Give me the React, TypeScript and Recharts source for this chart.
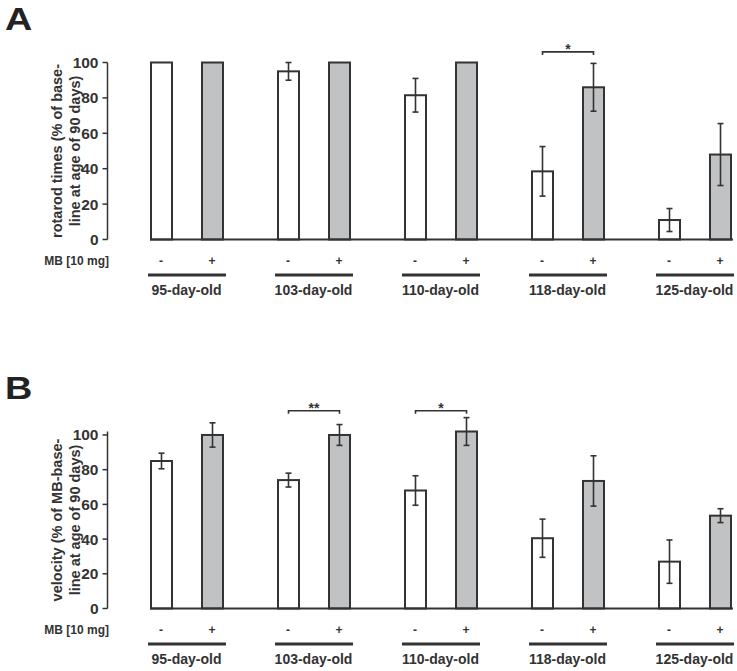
import { Bar, BarChart, Label, XAxis, YAxis } from 'recharts';

const groups = ['95-day-old', '103-day-old', '110-day-old', '118-day-old', '125-day-old'];
const yTicks = [0, 20, 40, 60, 80, 100];

// A: rotarod times
const rotarodCtrl = [100, 95, 81.5, 38.5, 11];
const rotarodCtrlErr = [0, 5, 9.5, 14, 6.5];
const rotarodMb = [100, 100, 100, 86, 48];
const rotarodMbErr = [0, 0, 0, 13.5, 17.5];
const rotarodSig = ['', '', '', '*', ''];

// B: velocity
const velocityCtrl = [85, 74, 68, 40.5, 27];
const velocityCtrlErr = [4.5, 4, 8.5, 11, 12.5];
const velocityMb = [100, 100, 102, 73.5, 53.5];
const velocityMbErr = [7, 6, 8, 14.5, 4];
const velocitySig = ['', '**', '*', '', ''];

const BAR = 21;
const GAP = 30;
const ink = '#333';
const font = '"Liberation Sans", Arial, Helvetica, sans-serif';

function buildRows(ctrl: number[], ctrlErr: number[], mb: number[], mbErr: number[], sig: string[]) {
  return groups.map((group, i) => ({
    pos: i,
    group,
    ctrl: ctrl[i],
    ctrlErr: ctrlErr[i],
    mb: mb[i],
    mbErr: mbErr[i],
    sig: sig[i],
  }));
}

function BarShape(props: any) {
  const { x, y, width, height, payload, field, color, sigLevel } = props;
  const v = payload[field];
  const err = payload[field + 'Err'];
  const k = v ? height / v : 0;
  const cx = x + width / 2;
  const base = y + height;
  const top = y - err * k;
  const bot = y + err * k;
  const showSig = field === 'mb' && payload.sig;
  const lx = cx - (BAR + GAP);
  const by = base - sigLevel * k;
  return (
    <g>
      <rect x={x} y={y} width={width} height={height} fill={color} stroke={ink} strokeWidth={2} />
      {err > 0 && (
        <g stroke={ink} strokeWidth={1.6}>
          <line x1={cx} x2={cx} y1={top} y2={bot} />
          <line x1={cx - 3} x2={cx + 3} y1={top} y2={top} />
          <line x1={cx - 3} x2={cx + 3} y1={bot} y2={bot} />
        </g>
      )}
      {showSig && (
        <g>
          <path d={`M${lx},${by + 3}V${by}H${cx}V${by + 3}`} fill="none" stroke={ink} strokeWidth={1.6} />
          <text x={(lx + cx) / 2} y={by + 2} textAnchor="middle" fontSize={14} fontWeight="bold" fill={ink}>
            {payload.sig}
          </text>
        </g>
      )}
    </g>
  );
}

function GroupTick(props: any) {
  const { x, y, payload } = props;
  const half = (BAR + GAP) / 2;
  return (
    <g fill={ink} fontWeight="bold">
      <text x={x - half} y={y + 25} textAnchor="middle" fontSize={12}>-</text>
      <text x={x + half} y={y + 25} textAnchor="middle" fontSize={12}>+</text>
      <line x1={x - 38.5} x2={x + 39.5} y1={y + 35.5} y2={y + 35.5} stroke={ink} strokeWidth={3} />
      <text x={x} y={y + 55} textAnchor="middle" fontSize={14}>{groups[payload.value]}</text>
    </g>
  );
}

function Panel({ letter, top, data, yLines, sigLevel }: any) {
  return (
    <div style={{ position: 'absolute', left: 0, top, width: 737, height: 300 }}>
      <div
        style={{
          position: 'absolute',
          left: 5,
          top: 4,
          fontSize: 31,
          lineHeight: 1,
          fontWeight: 'bold',
          color: '#222',
          transform: 'scaleX(1.22)',
          transformOrigin: 'left top',
        }}
      >
        {letter}
      </div>
      <BarChart
        width={737}
        height={300}
        data={data}
        margin={{ top: 62.5, right: 4, bottom: 2.5, left: 0 }}
        barSize={BAR}
        barGap={GAP}
      >
        <XAxis
          type="number"
          dataKey="pos"
          domain={[0, 4]}
          ticks={[0, 1, 2, 3, 4]}
          interval={0}
          padding={{ left: 36.5, right: 38.5 }}
          height={58}
          tickLine={false}
          tickSize={0}
          tickMargin={0}
          axisLine={{ stroke: ink, strokeWidth: 2 }}
          tick={<GroupTick />}
          label={
            <Label
              content={(p: any) => (
                <text
                  x={p.viewBox.x - 41}
                  y={p.viewBox.y + 25}
                  textAnchor="end"
                  fontSize={12}
                  fontWeight="bold"
                  fill={ink}
                >
                  MB [10 mg]
                </text>
              )}
            />
          }
        />
        <YAxis yAxisId="gap" width={42.5} tick={false} axisLine={false} tickLine={false} />
        <YAxis
          yAxisId="v"
          width={107.5}
          domain={[0, 100]}
          ticks={yTicks}
          interval={0}
          tickSize={5}
          tickMargin={4}
          axisLine={{ stroke: ink, strokeWidth: 1.5 }}
          tickLine={{ stroke: ink, strokeWidth: 1.5 }}
          tick={{ fontSize: 15.5, fontWeight: 'bold', fill: ink }}
          label={
            <Label
              content={(p: any) => {
                const cy = p.viewBox.y + p.viewBox.height / 2;
                return (
                  <g fontSize={14.5} fontWeight="bold" fill={ink} textAnchor="middle">
                    <text x={p.viewBox.x + 57} y={cy} dominantBaseline="central" transform={`rotate(-90 ${p.viewBox.x + 57} ${cy})`}>
                      {yLines[0]}
                    </text>
                    <text x={p.viewBox.x + 74.5} y={cy} dominantBaseline="central" transform={`rotate(-90 ${p.viewBox.x + 74.5} ${cy})`}>
                      {yLines[1]}
                    </text>
                  </g>
                );
              }}
            />
          }
        />
        <Bar
          yAxisId="v"
          dataKey="ctrl"
          isAnimationActive={false}
          shape={(p: any) => <BarShape {...p} field="ctrl" color="#ffffff" sigLevel={sigLevel} />}
        />
        <Bar
          yAxisId="v"
          dataKey="mb"
          isAnimationActive={false}
          shape={(p: any) => <BarShape {...p} field="mb" color="#c1c2c4" sigLevel={sigLevel} />}
        />
      </BarChart>
    </div>
  );
}

export default function App() {
  const rotarod = buildRows(rotarodCtrl, rotarodCtrlErr, rotarodMb, rotarodMbErr, rotarodSig);
  const velocity = buildRows(velocityCtrl, velocityCtrlErr, velocityMb, velocityMbErr, velocitySig);
  return (
    <div style={{ position: 'absolute', left: 0, top: 0, width: 737, height: 671, fontFamily: font, background: '#fff' }}>
      <Panel
        letter="A"
        top={0}
        data={rotarod}
        sigLevel={106}
        yLines={['rotarod times (% of base-', 'line at age of 90 days)']}
      />
      <Panel
        letter="B"
        top={368.5}
        data={velocity}
        sigLevel={114}
        yLines={['velocity (% of MB-base-', 'line at age of 90 days)']}
      />
    </div>
  );
}
